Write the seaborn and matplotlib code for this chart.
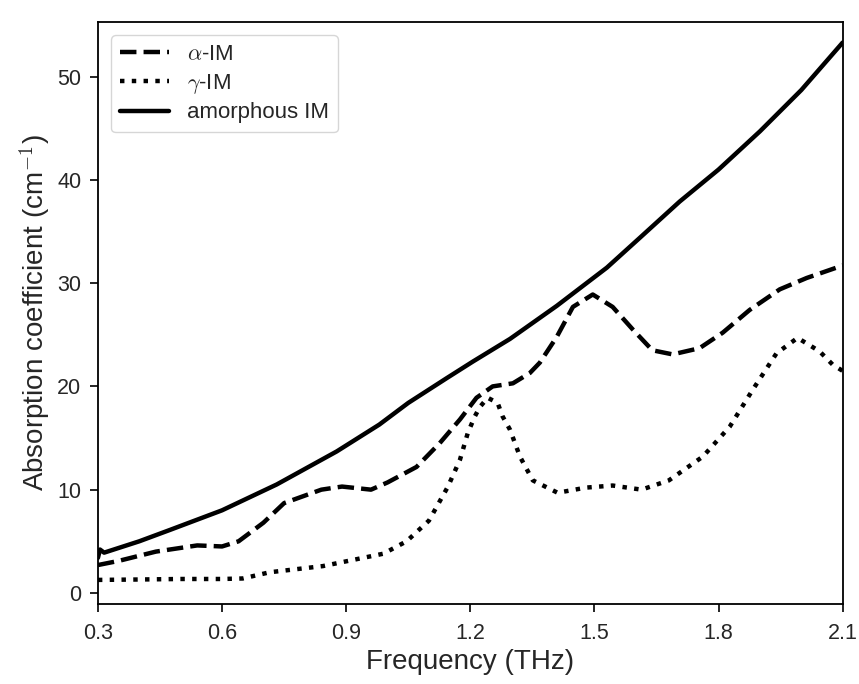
import numpy as np
import pandas as pd
import seaborn as sns
import matplotlib
matplotlib.use("Agg")
import matplotlib.pyplot as plt

# values
freq_alpha = [0.30, 0.35, 0.44, 0.54, 0.60, 0.64, 0.70, 0.75, 0.84, 0.89, 0.96, 1.00,
              1.07, 1.126, 1.175, 1.215, 1.254, 1.303, 1.344, 1.368, 1.409, 1.448, 1.496,
              1.544, 1.593, 1.64, 1.689, 1.754, 1.81, 1.875, 1.948, 2.013, 2.085, 2.10]
abs_alpha = [2.7, 3.1, 4.0, 4.6, 4.5, 5.0, 6.8, 8.7, 10.0, 10.3, 10.0, 10.7,
             12.2, 14.5, 16.8, 18.9, 20.0, 20.3, 21.3, 22.3, 24.8, 27.7, 28.9,
             27.7, 25.5, 23.5, 23.1, 23.7, 25.2, 27.4, 29.4, 30.5, 31.5, 31.7]

freq_gamma = [0.30, 0.40, 0.50, 0.60, 0.65, 0.715, 0.844, 0.99, 1.046, 1.10, 1.146,
              1.175, 1.194, 1.211, 1.223, 1.242, 1.266, 1.278, 1.296, 1.32, 1.351,
              1.411, 1.48, 1.544, 1.614, 1.68, 1.762, 1.827, 1.883, 1.94, 1.991,
              2.044, 2.076, 2.10]
abs_gamma = [1.26, 1.3, 1.35, 1.35, 1.4, 2.0, 2.6, 3.8, 5.0, 7.0, 10.3,
             12.9, 15.5, 17.1, 18.0, 18.9, 18.4, 17.1, 15.8, 13.2, 10.9,
             9.7, 10.2, 10.4, 10.0, 10.9, 13.2, 16.1, 19.7, 23.2, 24.7,
             23.4, 22.1, 21.5]

freq_amorph = [0.30, 0.305, 0.315, 0.40, 0.474, 0.60, 0.732, 0.877, 0.98, 1.05,
               1.143, 1.206, 1.296, 1.409, 1.53, 1.61, 1.706, 1.80, 1.90, 2.00, 2.10]
abs_amorph = [3.4, 4.2, 3.9, 5.0, 6.1, 8.0, 10.5, 13.7, 16.3, 18.4,
              20.8, 22.4, 24.6, 27.8, 31.5, 34.4, 37.9, 41.0, 44.7, 48.7, 53.3]

labels = [r"$\alpha$-IM", r"$\gamma$-IM", "amorphous IM"]
styles = ["--", ":", "-"]

sns.set_style("ticks")
plt.rcParams["font.family"] = ["Liberation Sans", "DejaVu Sans"]
plt.rcParams["mathtext.fontset"] = "cm"

fig = plt.figure(figsize=(8.59, 6.84), dpi=100)
ax = fig.add_axes([0.114, 0.117, 0.867, 0.851])

series = [(freq_alpha, abs_alpha), (freq_gamma, abs_gamma), (freq_amorph, abs_amorph)]
for (fx, fy), lab, ls in zip(series, labels, styles):
    df = pd.DataFrame({"f": fx, "a": fy})
    sns.lineplot(data=df, x="f", y="a", ax=ax, color="black", linestyle=ls,
                 linewidth=3.2, label=lab, estimator=None, sort=True)

ax.set_xlim(0.3, 2.1)
ax.set_ylim(-1.07, 55.3)
ax.set_xticks([0.3, 0.6, 0.9, 1.2, 1.5, 1.8, 2.1])
ax.set_yticks([0, 10, 20, 30, 40, 50])
ax.set_xlabel("Frequency (THz)", fontsize=20, labelpad=3)
ax.set_ylabel(r"Absorption coefficient (cm$^{-1}$)", fontsize=20)
ax.tick_params(labelsize=15.5, width=1.2, length=6, color="black", direction="out")
ax.tick_params(axis="x", pad=8)
ax.tick_params(axis="y", pad=6)
for sp in ax.spines.values():
    sp.set_linewidth(1.3)
    sp.set_color("black")

leg = ax.legend(loc="upper left", fontsize=16, handlelength=2.2, frameon=True,
                borderaxespad=0.6, labelspacing=0.3)
leg.get_frame().set_edgecolor("#cccccc")

fig.savefig("out.png", dpi=100)
